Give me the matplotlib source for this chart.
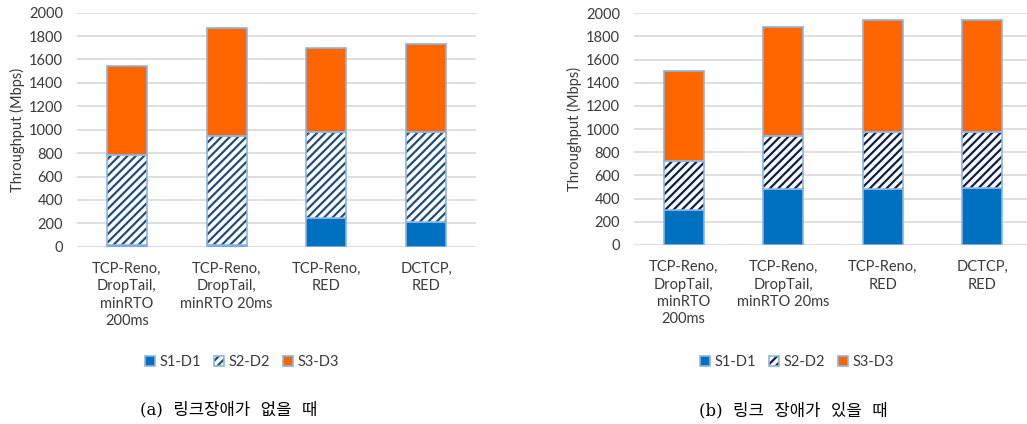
import numpy as np
import matplotlib
matplotlib.use("Agg")
import matplotlib.pyplot as plt

plt.rcParams['font.family'] = ['Lato', 'Noto Sans CJK KR', 'DejaVu Sans']
plt.rcParams['hatch.linewidth'] = 1.6

# categories and series (Mbps)
categories = ["TCP-Reno,\nDropTail,\nminRTO\n200ms",
              "TCP-Reno,\nDropTail,\nminRTO 20ms",
              "TCP-Reno,\nRED",
              "DCTCP,\nRED"]
series_names = ["S1-D1", "S2-D2", "S3-D3"]

# (a) no link failure
a_s1 = [15, 15, 245, 208]
a_s2 = [771, 934, 733, 770]
a_s3 = [756, 918, 718, 757]

# (b) with link failure
b_s1 = [302, 486, 486, 495]
b_s2 = [426, 458, 487, 478]
b_s3 = [777, 941, 967, 967]

captions = ["(a)  링크장애가  없을  때", "(b)  링크  장애가  있을  때"]

blue = "#0070C0"
orange = "#FF6600"
edge = "#8DB4E2"

fig = plt.figure(figsize=(10.27, 4.24), dpi=100)
ax_a = fig.add_axes([77/1027, 1-246.7/424, 399/1027, 234/424])
ax_b = fig.add_axes([634/1027, 1-245/424, 398/1027, 231.7/424])


def draw(ax, s1, s2, s3, hatch_col, leg_x):
    x = np.arange(len(categories))
    s1 = np.array(s1)
    s2 = np.array(s2)
    s3 = np.array(s3)
    w = 0.4
    b1 = ax.bar(x, s1, w, color=blue, edgecolor=edge, linewidth=1.2, zorder=3)
    b2 = ax.bar(x, s2, w, bottom=s1, color="white", edgecolor=hatch_col,
                hatch="////", linewidth=0, zorder=3)
    b2o = ax.bar(x, s2, w, bottom=s1, fill=False, edgecolor=edge, linewidth=1.2, zorder=4)
    b3 = ax.bar(x, s3, w, bottom=s1 + s2, color=orange, edgecolor=edge,
                linewidth=1.2, zorder=3)
    ax.set_xlim(-0.5, len(categories) - 0.5)
    ax.set_ylim(0, 2000)
    ax.set_yticks(np.arange(0, 2001, 200))
    ax.yaxis.grid(True, color="#D9D9D9", linewidth=1.2, zorder=0)
    ax.set_axisbelow(True)
    for s in ["top", "right", "left", "bottom"]:
        ax.spines[s].set_visible(False)
    ax.tick_params(axis="both", length=0, labelsize=10.5, colors="#3A3A3A")
    ax.tick_params(axis="y", pad=10)
    ax.tick_params(axis="x", pad=11)
    ax.set_xticks(x)
    ax.set_xticklabels(categories, linespacing=1.3)
    ax.set_ylabel("Throughput (Mbps)", fontsize=10.5, color="#3A3A3A", labelpad=3)
    leg = fig.legend([b1[0], (b2[0], b2o[0]), b3[0]], series_names, loc="center",
                     bbox_to_anchor=(leg_x / 1027, 1 - 362 / 424), ncol=3, frameon=False,
                     fontsize=10.5, handlelength=0.7, handleheight=0.7,
                     handletextpad=0.3, columnspacing=0.9)
    for t in leg.get_texts():
        t.set_color("#3A3A3A")


draw(ax_a, a_s1, a_s2, a_s3, "#1F4E79", 242)
draw(ax_b, b_s1, b_s2, b_s3, "#0D1F4F", 797)

fig.text(229/1027, 1-410/424, captions[0], ha="center", va="center", fontsize=12,
         family=['DejaVu Serif', 'Noto Sans CJK KR'])
fig.text(793/1027, 1-411/424, captions[1], ha="center", va="center", fontsize=12,
         family=['DejaVu Serif', 'Noto Sans CJK KR'])

fig.savefig("out.png", dpi=100)
